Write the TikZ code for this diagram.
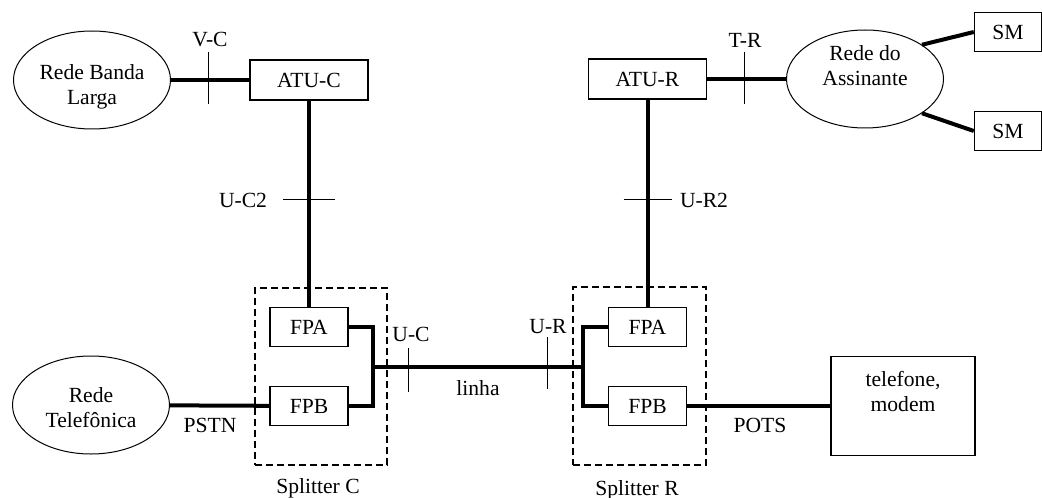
\documentclass[tikz,border=0pt]{standalone}
\usepackage{fontspec}
\setmainfont{Liberation Serif}
\usetikzlibrary{shapes.geometric}

\tikzstyle{ellS}=[ellipse,minimum width=78.5pt,minimum height=49pt,inner sep=0pt,draw,line width=0.5pt]
\tikzstyle{bS}=[rectangle,minimum width=59pt,minimum height=20pt,inner sep=0pt,draw,line width=0.7pt]
\tikzstyle{fS}=[rectangle,minimum width=39pt,minimum height=19.5pt,inner sep=0pt,draw,line width=0.7pt]
\tikzstyle{smS}=[rectangle,minimum width=33.5pt,minimum height=19.5pt,inner sep=0pt,draw,line width=0.7pt]
\tikzstyle{telS}=[rectangle,minimum width=72pt,minimum height=49.5pt,inner sep=0pt,draw,line width=0.7pt]
\tikzstyle{dS}=[rectangle,inner sep=0pt,draw,line width=0.6pt,dash pattern=on 3.5pt off 2pt]
\tikzstyle{eS}=[line width=2pt]
\tikzstyle{tS}=[line width=0.5pt]
\tikzstyle{lS}=[inner sep=0pt,align=center]

\begin{document}
\begin{tikzpicture}[x=0.5pt,y=-0.5pt,font=\fontsize{10.8pt}{12.5pt}\selectfont]
    \useasboundingbox (0,0) rectangle (1042,497);
    % redes e equipamentos
    \draw (92,80) node[ellS] (rbl) {};
    \draw (309,80) node[bS] (atuC) {ATU-C};
    \draw (647.5,79) node[bS] (atuR) {ATU-R};
    \draw (865,79) node[ellS] (ras) {};
    \draw (1008,32) node[smS] (sm1) {SM};
    \draw (1008,131) node[smS] (sm2) {SM};
    \draw (91,405) node[ellS] (rtel) {};
    \draw (903,406) node[telS] (tel) {};
    \node[lS] at ([yshift=-3.2pt]rbl.center) {Rede Banda\\Larga};
    \node[lS] at ([yshift=6.5pt]ras.center) {Rede do\\Assinante};
    \node[lS] at ([yshift=-1.5pt]rtel.center) {Rede\\Telef\^onica};
    \node[lS] at ([yshift=7.5pt]tel.center) {telefone,\\modem};
    % splitters
    \draw (321,376.5) node[dS,minimum width=66pt,minimum height=88.5pt] (spC) {};
    \draw (639.5,376) node[dS,minimum width=66.5pt,minimum height=89pt] (spR) {};
    \draw (309,327) node[fS] (fpaC) {FPA};
    \draw (309,406) node[fS] (fpbC) {FPB};
    \draw (647.5,327) node[fS] (fpaR) {FPA};
    \draw (647.5,406) node[fS] (fpbR) {FPB};
    \coordinate (jC) at (373,367);
    \coordinate (jR) at (583,367);
    % ligacoes
    \path
        (rbl) edge[eS] (atuC)
        (atuR) edge[eS] (ras)
        (ras.31) edge[eS] (sm1.west)
        (ras.-31) edge[eS] (sm2.west)
        (atuC) edge[eS] (fpaC)
        (atuR) edge[eS] (fpaR)
        (rtel) edge[eS] (fpbC)
        (fpbR) edge[eS] (tel)
        (jC) edge[eS] (jR)
    ;
    \draw[eS] (fpaC.east) -| (jC) |- (fpbC.east);
    \draw[eS] (fpaR.west) -| (jR) |- (fpbR.west);
    % pontos de referencia
    \coordinate (vc) at (208,78);
    \coordinate (tr) at (744,78);
    \coordinate (uc2) at (309,200);
    \coordinate (ur2) at (647.5,200);
    \coordinate (uc) at (408,370);
    \coordinate (ur) at (547,363);
    \draw[tS] ([yshift=13pt]vc) -- ([yshift=-13pt]vc);
    \draw[tS] ([yshift=13pt]tr) -- ([yshift=-13pt]tr);
    \draw[tS] ([xshift=-13pt]uc2) -- ([xshift=13pt]uc2);
    \draw[tS] ([xshift=-12pt]ur2) -- ([xshift=12pt]ur2);
    \draw[tS] ([yshift=11pt]uc) -- ([yshift=-11pt]uc);
    \draw[tS] ([yshift=13pt]ur) -- ([yshift=-13pt]ur);
    % rotulos
    \draw (210,47) node[lS,anchor=base] (lvc) {V-C};
    \draw (745,48) node[lS,anchor=base] (ltr) {T-R};
    \draw (243,207) node[lS,anchor=base] (luc2) {U-C2};
    \draw (704,207) node[lS,anchor=base] (lur2) {U-R2};
    \draw (411,341) node[lS,anchor=base] (luc) {U-C};
    \draw (548,333) node[lS,anchor=base] (lur) {U-R};
    \draw (478,395) node[lS,anchor=base] (llin) {linha};
    \draw (210,432) node[lS,anchor=base] (lpstn) {PSTN};
    \draw (760,432) node[lS,anchor=base] (lpots) {POTS};
    \draw (318,493) node[lS,anchor=base] (lspC) {Splitter C};
    \draw (637,495) node[lS,anchor=base] (lspR) {Splitter R};
\end{tikzpicture}
\end{document}
